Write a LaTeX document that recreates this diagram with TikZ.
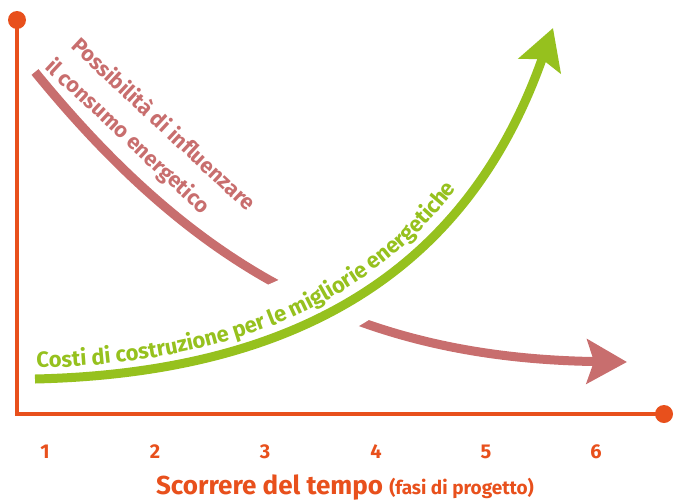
\documentclass[tikz,border=0pt]{standalone}
\usepackage{fontspec}
\setmainfont{Fira Sans}
\usetikzlibrary{arrows.meta, decorations.text}
\definecolor{axiscolor}{RGB}{232, 80, 28}
\definecolor{influcolor}{RGB}{200, 110, 110}
\definecolor{costcolor}{RGB}{150, 193, 30}

\begin{document}
\begin{tikzpicture}[x=1pt, y=-1pt,
    axisline/.style={axiscolor, line width=4pt},
    curvearrow/.style={line width=9pt, -{Stealth[length=40pt, width=44pt, inset=7pt]}},
    ticklabel/.style={font=\fontsize{20}{20}\selectfont\bfseries, text=axiscolor},
    influtext/.style={font=\fontsize{21.5}{21.5}\selectfont\bfseries, text=influcolor, anchor=base west, rotate=-43, inner sep=0pt}]
  \useasboundingbox (0,0) rectangle (674,501);
  % axes
  \coordinate (origin) at (17,414);
  \coordinate (ytop) at (17,20);
  \coordinate (xend) at (664,414);
  \draw[axisline] (ytop) -- (origin) -- (xend);
  \fill[axiscolor] (ytop) circle (9pt);
  \fill[axiscolor] (xend) circle (9pt);
  % project phases
  \foreach \i/\x in {1/45, 2/155, 3/265, 4/376, 5/486, 6/596}
    \node[ticklabel] (tick\i) at (\x,452) {\i};
  \node[font=\fontsize{26}{26}\selectfont\bfseries, text=axiscolor, anchor=base] (timelabel) at (345,494)
    {Scorrere del tempo {\fontsize{19}{19}\selectfont(fasi di progetto)}};
  % influence on energy use
  \draw[curvearrow, influcolor] (35,72) .. controls (190,262) and (350,358) .. (627,362);
  \node[influtext] (influA) at (70,47) {Possibilità di influenzare};
  \node[influtext] (influB) at (44,68) {il consumo energetico};
  % gap where the cost curve crosses
  \begin{scope}
    \clip (325,300) circle (75pt);
    \draw[white, line width=78pt, shift={(-6,-10)}] (35,379) .. controls (340,372) and (480,235) .. (553,28);
  \end{scope}
  % construction costs
  \path[decorate, decoration={text along path, raise=11pt, text align={left indent=2pt},
      text={|\fontsize{22}{22}\selectfont\bfseries\color{costcolor}|Costi di costruzione per le migliorie energetiche}}]
    (35,379) .. controls (340,372) and (480,235) .. (553,28);
  \draw[curvearrow, costcolor] (35,379) .. controls (340,372) and (480,235) .. (553,28);
\end{tikzpicture}
\end{document}
